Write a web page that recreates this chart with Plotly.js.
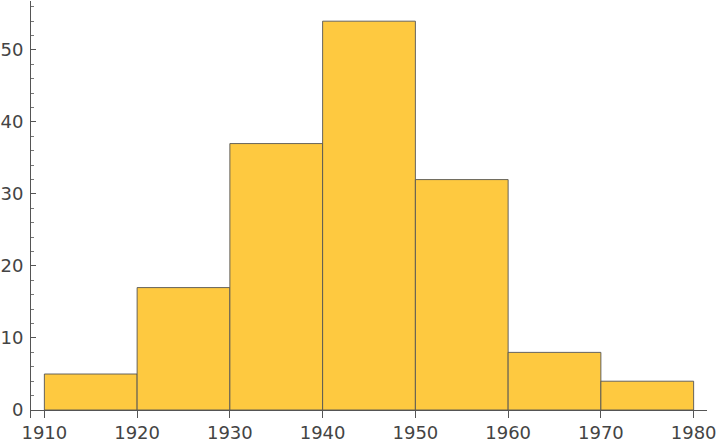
<!DOCTYPE html>
<html>
<head>
<meta charset="utf-8">
<script src="https://cdn.plot.ly/plotly-3.0.1.min.js"></script>
<style>html,body{margin:0;padding:0;background:#fff;}#chart{width:720px;height:448px;}</style>
</head>
<body>
<div id="chart"></div>
<script>
const binStarts = [1910, 1920, 1930, 1940, 1950, 1960, 1970];
const binWidth = 10;
const counts = [5, 17, 37, 54, 32, 8, 4];
const xTicks = [1910, 1920, 1930, 1940, 1950, 1960, 1970, 1980];
const yTicks = [0, 10, 20, 30, 40, 50];

const centers = binStarts.map(s => s + binWidth / 2);

const trace = {
  type: 'bar',
  x: centers,
  y: counts,
  width: binStarts.map(() => binWidth),
  marker: { color: 'rgb(254,201,64)', line: { color: '#555555', width: 0.9 } },
  hoverinfo: 'x+y'
};

const font = { family: 'DejaVu Sans', size: 18, color: '#444444' };

const layout = {
  width: 720, height: 448,
  margin: { l: 31, r: 13, t: 1, b: 30, pad: 0 },
  paper_bgcolor: '#ffffff', plot_bgcolor: '#ffffff',
  showlegend: false,
  bargap: 0,
  font: font,
  xaxis: {
    range: [1908.56, 1981.44],
    tickvals: xTicks,
    ticktext: xTicks.map(String),
    ticks: 'inside', ticklen: 8, tickwidth: 1, tickcolor: '#555555',
    showline: false, showgrid: false, zeroline: false,
    tickfont: font,
    ticklabelstandoff: 2
  },
  yaxis: {
    range: [-1.111, 56.8],
    tickvals: yTicks,
    ticktext: yTicks.map(String),
    ticks: 'inside', ticklen: 5, tickwidth: 1, tickcolor: '#555555',
    minor: { tickvals: [2,4,6,8,12,14,16,18,22,24,26,28,32,34,36,38,42,44,46,48,52,54,56], ticks: 'inside', ticklen: 3, tickcolor: '#777777', tickwidth: 1, showgrid: false },
    showline: true, linecolor: '#555555', linewidth: 1,
    showgrid: false,
    zeroline: true, zerolinecolor: '#555555', zerolinewidth: 1,
    tickfont: font,
    ticklabelstandoff: 3
  }
};

Plotly.newPlot('chart', [trace], layout, { displayModeBar: false, staticPlot: true });
</script>
</body>
</html>
